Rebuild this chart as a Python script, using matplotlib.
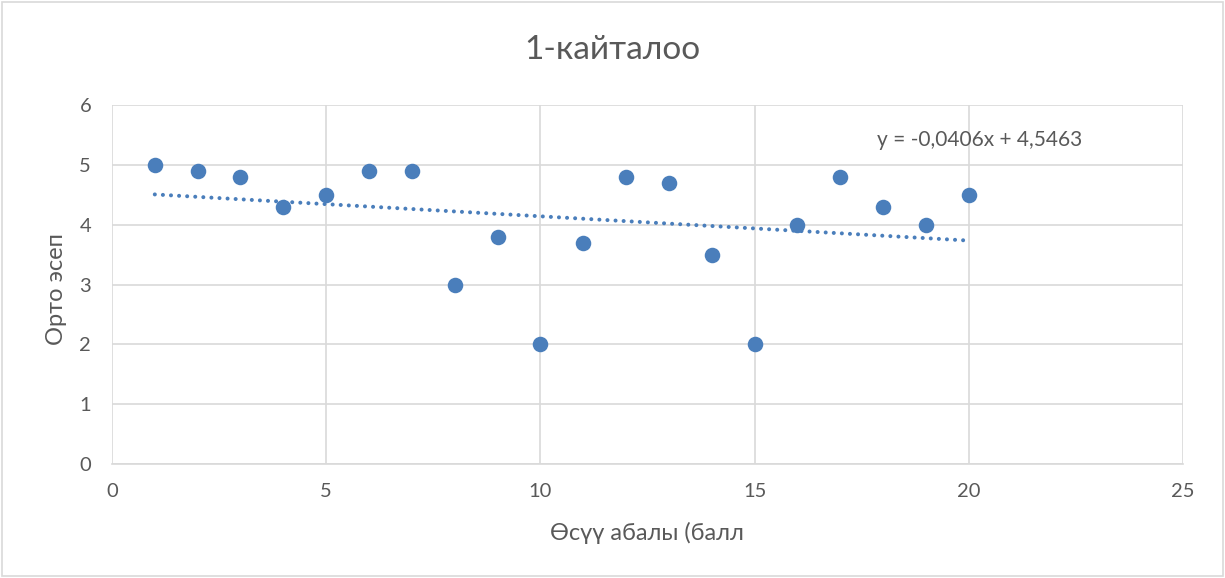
import numpy as np
import matplotlib
matplotlib.use("Agg")
import matplotlib.pyplot as plt
from matplotlib.patches import Rectangle

plt.rcParams['font.family'] = ['Lato', 'DejaVu Sans']

x_vals = [1, 2, 3, 4, 5, 6, 7, 8, 9, 10, 11, 12, 13, 14, 15, 16, 17, 18, 19, 20]
y_vals = [5.0, 4.9, 4.8, 4.3, 4.5, 4.9, 4.9, 3.0, 3.8, 2.0, 3.7, 4.8, 4.7, 3.5, 2.0, 4.0, 4.8, 4.3, 4.0, 4.5]
title = "1-кайталоо"
xlabel = "Өсүү абалы (балл"
ylabel = "Орто эсеп"
x_ticks = [0, 5, 10, 15, 20, 25]
y_ticks = [0, 1, 2, 3, 4, 5, 6]

color = '#4A7EBB'
text_color = '#595959'

fig = plt.figure(figsize=(12.25, 5.78), dpi=100)
ax = fig.add_axes([0.0914, 0.1972, 0.8743, 0.6211])

ax.scatter(x_vals, y_vals, s=125, color=color, zorder=3, linewidths=0)

x = np.array(x_vals, dtype=float)
y = np.array(y_vals, dtype=float)
slope, intercept = np.polyfit(x, y, 1)
xs = np.array([x.min(), x.max()])
ax.plot(xs, slope * xs + intercept, color=color, linestyle=(0, (0.01, 2.0)), linewidth=2.9,
        zorder=2, dash_capstyle='round', solid_capstyle='round')

eq = "y = {:.4f}x + {:.4f}".format(slope, intercept).replace('.', ',')
ax.text(20.26, 5.42, eq, ha='center', va='center', fontsize=15, color=text_color)

ax.set_xlim(0, 25)
ax.set_ylim(0, 6)
ax.set_xticks(x_ticks)
ax.set_yticks(y_ticks)
ax.grid(True, color='#D9D9D9', linewidth=1.2)
ax.set_axisbelow(True)
for s in ['top', 'right', 'left']:
    ax.spines[s].set_visible(False)
ax.spines['bottom'].set_color('#D9D9D9')
ax.spines['bottom'].set_linewidth(1.2)
ax.tick_params(length=0, labelsize=14.5, labelcolor=text_color)
ax.tick_params(axis='x', pad=14)
ax.tick_params(axis='y', pad=15)

fig.text(0.5, 0.913, title, ha='center', va='center', fontsize=24, color=text_color)
fig.text(0.5285, 0.078, xlabel, ha='center', va='center', fontsize=17, color=text_color)
fig.text(0.0465, 0.5, ylabel, ha='center', va='center', rotation=90, fontsize=17, color=text_color)

fig.patches.append(Rectangle((0.002, 0.003), 0.996, 0.994, transform=fig.transFigure,
                             fill=False, edgecolor='#D9D9D9', linewidth=1.2))

fig.savefig("out.png", dpi=100, facecolor='white')
